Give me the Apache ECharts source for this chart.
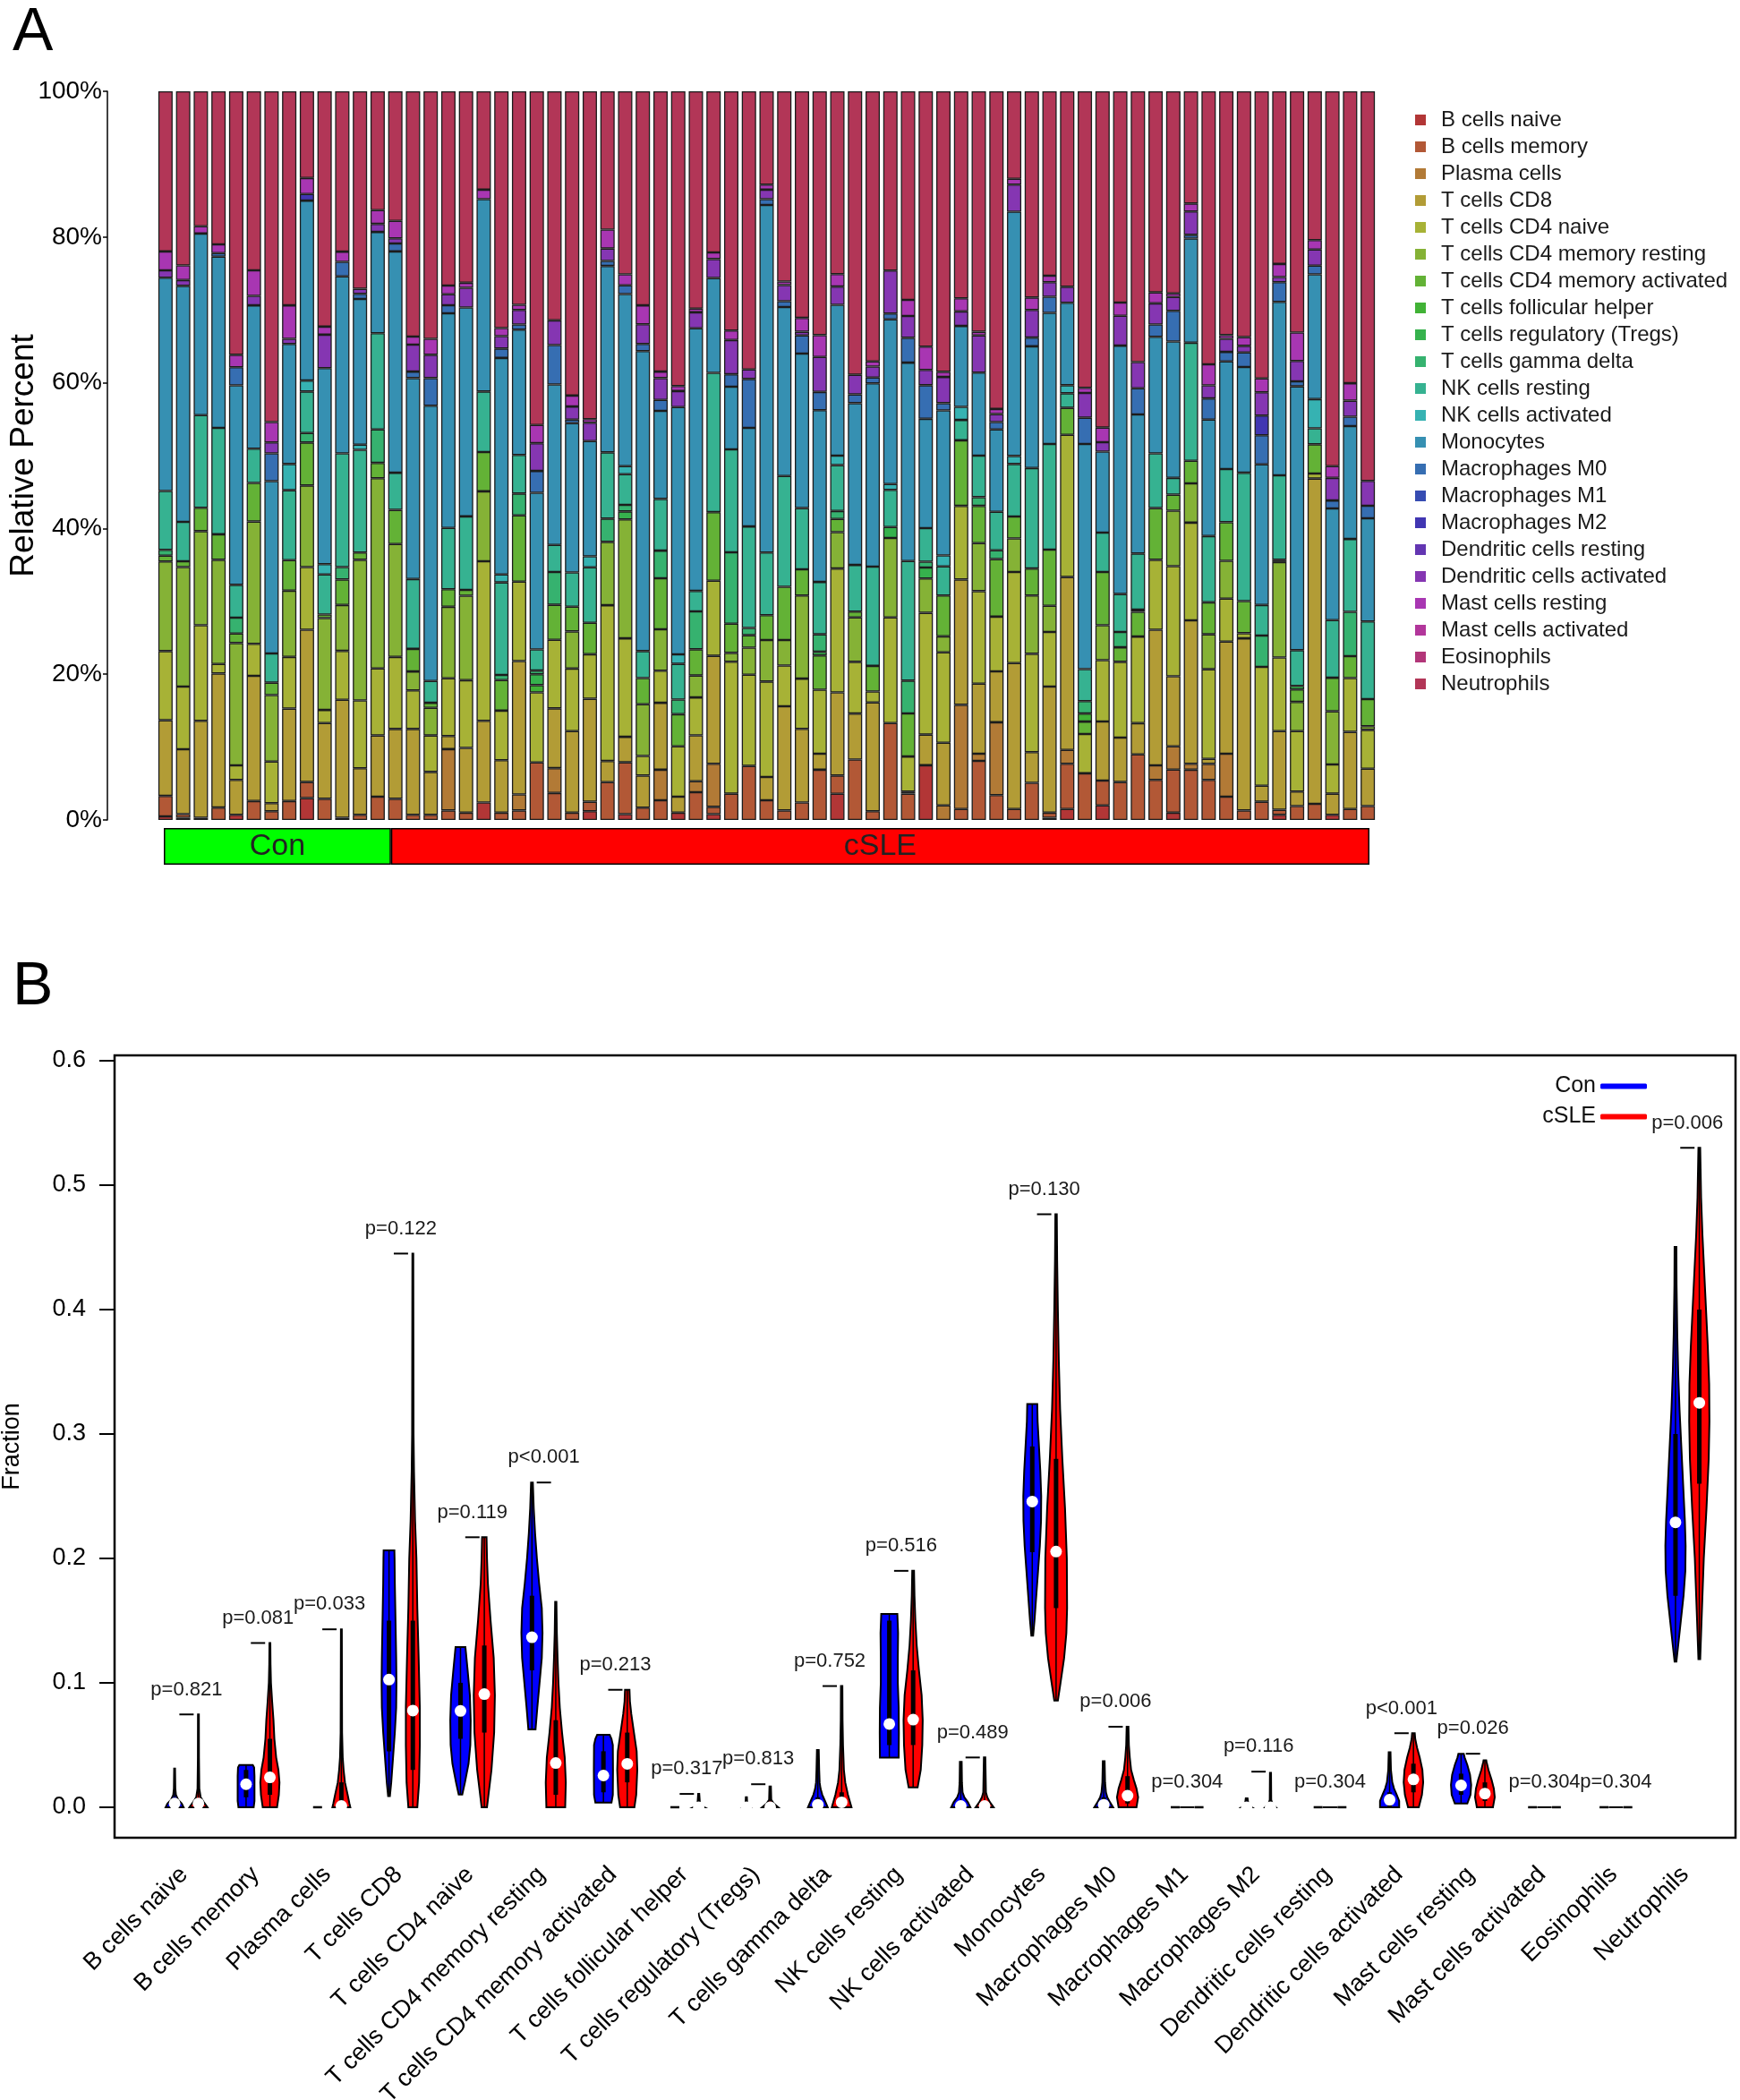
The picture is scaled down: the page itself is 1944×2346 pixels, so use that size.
<!DOCTYPE html>
<html><head><meta charset="utf-8">
<script src="https://cdn.jsdelivr.net/npm/echarts@6/dist/echarts.min.js"></script>
<style>html,body{margin:0;padding:0;background:#fff}#chart{width:1944px;height:2346px}</style>
</head><body><div id="chart"></div>
<script>
const FONT = '"Liberation Sans", Arial, Helvetica, sans-serif';

// ---------- Panel A: CIBERSORT relative fractions (% per sample, 13 Con then 56 cSLE) ----------
const cellTypes = ['B cells naive','B cells memory','Plasma cells','T cells CD8','T cells CD4 naive',
  'T cells CD4 memory resting','T cells CD4 memory activated','T cells follicular helper',
  'T cells regulatory (Tregs)','T cells gamma delta','NK cells resting','NK cells activated',
  'Monocytes','Macrophages M0','Macrophages M1','Macrophages M2','Dendritic cells resting',
  'Dendritic cells activated','Mast cells resting','Mast cells activated','Eosinophils','Neutrophils'];
const cellColors = ['#B23636','#B25836','#B27A36','#B29C36','#A7B236','#85B236','#63B236','#41B236',
  '#36B24D','#36B26F','#36B291','#36B2B2','#3690B2','#366EB2','#364CB2','#4136B2','#6336B2',
  '#8536B2','#A836B2','#B2369B','#B23679','#B23657'];
const groupLabels = ['Con', 'cSLE'];
const conCount = 13;
const sleCount = 56;

const BN = [0.5,0.3,0.3,0,0.7,0,0,0,3.0,0, 0.3,0,0,0,0,0,0,0,2.4,0, 0,0,0,0,1.2,0,0.8,0,0,1.0,
  0,0.8,0,0,0,0,0,0,3.6,0, 0,0,0,7.5,0,0,0,0,0,0, 0.3,1.5,0,2.0,0,0,0,1.0,0,0, 0,0,0,0.7,0,0,0.7,0,0];
const BM = [2.8,0.5,0,1.7,0,2.6,1.2,2.6,2.2,2.9, 0,0.7,3.2,2.9,0.7,0.7,1.3,1.0,0,1.0, 1.3,7.9,3.7,1.0,1.3,5.2,7.1,1.7,2.7,0,
  3.8,1.0,3.6,7.4,2.7,1.3,2.4,6.9,2.5,8.3, 1.2,13.3,3.6,0,0,1.5,8.1,3.4,1.5,5.1, 0.7,6.2,6.4,3.4,5.2,9.0,5.5,5.9,6.9,5.5,
  3.2,1.3,2.5,0.7,1.9,2.2,0,1.5,1.9];
const PL = [0,0,0,0,0,0,0,0,0,0, 0,0,0,0,0,0,8.4,0,0,0, 2.2,0,3.4,0,0,0,0,0,4.2,0,
  1.5,5.9,0,0,0,0,0,0,0,0, 0,0,0,0,2.0,14.3,1.0,10.0,0,0, 0,1.9,0,0,0,0,2.0,3.2,0.8,2.2, 5.9,0,0,0,0,0,0,0,0];
const CD8 = [10.4,8.9,13.3,18.4,4.8,17.2,1.1,12.7,20.9,10.4, 16.2,6.4,8.4,9.6,11.8,5.9,1.8,8.9,11.2,7.2,
  18.3,0,8.2,11.2,14.1,2.9,3.5,4.4,9.2,2.2, 6.3,14.8,0,0,3.2,14.3,10.1,2.2,11.4,6.3,
  14.9,0,0.3,4.2,8.6,17.2,9.6,7.0,20.0,4.2, 17.3,23.7,0,8.1,6.1,4.3,18.6,9.6,19.7,0.7,
  15.4,23.6,2.2,10.8,2.0,44.6,2.9,10.6,5.1];
const C4N = [9.5,8.6,13.1,1.3,2.0,4.4,5.7,7.1,8.6,1.8, 6.7,9.3,9.2,9.9,5.3,5.0,7.9,9.3,21.9,6.8,
  10.9,9.6,9.4,8.6,6.1,21.4,13.5,2.7,4.4,6.9, 5.2,10.3,18.1,12.5,13.1,5.6,6.9,8.8,17.0,7.1,
  1.5,14.5,4.8,16.7,12.4,10.1,12.7,7.5,12.5,13.5, 7.5,19.5,5.4,8.4,10.4,11.9,9.6,15.1,13.4,12.3,
  5.9,0.7,16.3,10.1,8.3,0.7,4.0,7.4,5.3];
const C4R = [12.3,16.4,12.9,14.3,16.8,16.8,9.1,9.1,11.2,12.6, 6.3,19.3,26.1,15.5,2.6,3.8,9.8,11.6,9.6,0,
  0,0,0,5.1,0,8.7,16.3,7.1,5.7,0, 3.0,0,1.2,3.7,5.7,3.5,11.4,0,5.0,6.1,
  0,10.9,0,4.7,2.2,0,6.6,0,4.6,8.0, 3.6,0,0,4.8,0,0,0,7.6,5.4,4.8, 5.2,0,0,13.1,4.0,0,7.3,0,0.5];
const C4A = [0.8,0.8,3.2,3.5,1.3,5.3,1.7,4.2,5.9,0.5, 3.5,1.0,2.1,4.7,3.1,0.7,2.4,0.8,5.4,4.2,
  9.1,0,4.8,3.4,4.3,0,0,3.6,7.0,4.4, 3.6,9.4,4.0,1.7,3.4,7.3,3.6,4.7,1.8,0.8,
  3.5,0,5.9,0,5.6,9.0,5.1,7.9,3.0,3.7, 7.7,3.7,1.7,7.3,2.0,3.4,7.1,2.2,3.1,4.4, 5.3,4.4,0,0,1.7,4.0,4.6,3.0,3.7];
const TFH = [0,0,0,0,0,0,0,0,0,0, 0,0,0,0,0,0,0,0,0,0, 0,1.0,0,0,0,0,0,0,0,0,
  0,0,0,0,0,0,0,0,0,0, 0,0,0,0,0,0,0,0,0,0, 0,0,1.1,0,0,0,0,0,0,0, 0,0,0,0,0,0,0,0,0];
const TREG = [0,0,0,0,0,0,0,0,0,0, 0,0,0,0,0,0,0,0,0,0, 0,1.5,0,0,0,0,1.1,0,0,0,
  0,0,0,0,0,0,0,0.5,0,0, 0,1.5,0,1.5,0,0,0,0,0,0, 0,0,0,0,0,0,0,0,0,0, 0,0,0,0,0.5,0,0,0,0];
const GD = [0.8,0,0,0,2.2,0,0,0,1.3,0, 1.7,0,4.6,0,0,0,0,0,0,0.7, 3.0,0.5,4.5,0,0,3.2,0.9,0,3.8,2.0,
  5.2,0,9.8,1.0,0,0,0,2.4,1.1,0, 0,0,4.5,0.8,0,0,1.2,1.2,0,0, 0,0,1.7,0,2.1,0.3,0,0,0,0, 0,0,4.3,0.3,0,0,0,6.1,0];
const NKR = [8.1,5.4,12.7,14.6,4.5,4.7,4.0,9.6,5.7,5.5, 15.6,14.1,13.2,5.1,9.6,3.0,8.4,10.1,8.3,12.7,
  5.3,2.9,3.7,4.7,7.6,9.1,4.2,3.7,7.1,4.9, 2.8,19.1,14.1,13.9,8.6,15.2,8.4,7.2,6.3,6.4,
  13.6,5.1,16.4,4.6,4.0,2.8,5.7,5.3,7.2,13.8, 14.5,2.0,4.4,5.4,5.2,7.7,7.5,2.3,16.2,9.1,
  7.3,17.6,4.2,11.6,4.9,2.2,7.9,10.0,10.6];
const NKA = [0,0,0,0,0,0,0,3.6,1.5,1.4, 0,0.7,0,0,0,0,0,0,0,1.1, 0,0,0,0,1.5,0,1.1,0,0,1.3,
  0,0,0,0,0,0,0,0,1.3,0, 0,0.8,0,0,1.5,1.8,0,0,1.1,0, 0,1.1,0,0,0,0,0,0,0,0, 0,0,0,0,0,4.0,0,0,0];
const MONO = [29.3,32.4,24.9,23.5,27.4,19.7,23.6,16.5,24.7,26.9, 24.3,20.0,13.9,30.4,27.6,37.8,29.4,28.7,26.4,29.7,
  17.2,21.5,22.0,20.5,15.8,25.6,23.6,41.2,12.1,33.9, 36.0,13.0,8.6,13.5,47.7,23.2,21.2,23.6,20.7,22.2,
  25.1,22.6,27.2,15.0,19.9,11.1,11.4,11.3,33.5,16.7, 18.0,11.3,30.9,11.1,34.1,19.1,16.0,18.7,14.3,16.0,
  14.8,14.5,19.3,23.8,36.2,17.1,15.3,15.5,14.1];
const M0 = [0,0,0,0.5,2.5,0,3.8,0,0,0, 2.0,0.7,0,1.1,0.9,3.8,1.1,0,0,1.3, 0.7,3.0,5.4,0.5,0,0.7,1.2,1.0,1.5,0,
  0,0,1.7,6.7,0.8,0.8,2.5,2.5,0,1.2, 0.8,0.8,3.4,4.6,1.0,0,0,1.0,0,1.2, 2.2,0,3.6,0,0,3.6,1.7,4.2,0.5,2.9,
  1.3,2.0,4.0,2.7,0.7,1.2,1.1,1.3,1.7];
const M1 = [0,0,0,0,0,0,0,0,0,0, 0,0,0,0,0,0,0,0,0,0, 0,0,0,0,0,0,0,0,0,0,
  0,0,0,0,0,0,0,0,0,0, 0,0,0,0,0,0,0,0,0,0, 0,0,0,0,0,0,0,0,0,0, 0,0,0,0,0,0,0,0,0];
const M2 = [0,0,0,0,0,0,0,0,0.9,0, 0,0,0,0,0,0,0,0,0,0, 0,0,0,0,0,0,0,0,0,0,
  0,0,0,0,0,0,0,0,0,0, 0,0,0,0,0,0,0,0,0,0, 0,0,0,0,0,0,0,0,0,0, 0,0,2.7,0,0,0,0,0,0];
const DCR = [0,0,0,0,0,0,0,0,0,0, 0,0,0,0,0,0,0,0,0,0, 0,0,0,0,0,0,0,0,0,0,
  0,0,0,0,0,0,0,0,0,0, 0,0,0,0,0,0,0,0,0,0, 0,0,0,0,0,0,0,0,0,0, 0,0,0,0,0,0,0,0,0];
const DCA = [1.0,0.8,0,0,0,1.3,1.5,0.7,0,4.6, 0,0.7,1.1,0.7,3.7,3.2,1.5,2.7,0,1.7,
  2.0,3.8,3.4,1.8,2.5,1.7,0,2.7,3.0,2.2, 2.2,2.6,4.7,1.3,1.3,2.2,0.5,4.8,2.5,2.7,
  1.5,5.9,3.0,2.1,3.6,2.0,5.1,1.1,3.7,3.8, 2.0,2.2,3.4,1.3,4.1,3.6,2.9,1.9,3.2,1.8,
  1.8,0.9,3.2,0.7,2.8,2.2,3.1,2.2,3.4];
const MR = [2.6,2.0,1.0,1.2,1.7,3.5,2.8,4.6,2.2,1.1, 1.4,0,1.9,2.4,1.1,2.2,1.2,0.7,1.3,1.1,
  0.7,2.5,0,1.5,0.5,2.6,1.5,2.6,0.9,0.7, 0.5,0.9,1.3,0,0.7,0.5,1.9,3.0,1.7,0,
  0.7,0,2.2,3.2,0.7,1.8,0.5,0.7,0.8,1.7, 0.9,0,0.7,2.0,1.8,0,1.5,0.5,1.1,2.9,
  0.5,1.2,1.9,1.8,3.9,1.3,1.6,2.4,0];
const MA = [0,0,0,0,0,0,0,0,0,0, 0,0,0,0,0,0,0,0,0,0, 0,0,0,0,0,0,0,0,0,0,
  0,0,0,0,0,0,0,0,0,0, 0,0,0,0,0,0,0,0,0,0, 0,0,0,0,0,0,0,0,0,0, 0,0,0,0,0,0,0,0,0];
const EOS = [0,0,0,0,0,0,0,0,0,0, 0,0,0,0,0,0,0,0,0,0, 0,0,0,0,0,0,0,0,0,0,
  0,0,0,0,0,0,0,0,0,0, 0,0,0,0,0,0,0,0,0,0, 0,0,0,0,0,0,0,0,0,0, 0,0,0,0,0,0,0,0,0];
const NEUT = [22,23.9,18.5,21,36.2,24.6,45.3,29.4,11.9,32.3, 22.0,27.1,16.3,17.8,33.7,34.0,26.6,26.3,13.5,32.5,
  29.3,45.8,31.4,41.8,44.9,19.0,25.1,29.4,38.5,40.4, 29.8,22.1,32.8,38.1,12.8,26.1,31.1,33.5,25.1,38.9,
  37.0,24.6,28.6,35.0,38.5,28.4,33.0,43.6,12.0,28.3, 25.3,26.8,40.7,46.1,29.0,37.2,27.6,27.7,15.4,37.5,
  33.5,33.7,39.4,23.7,33.1,20.4,51.4,40.1,53.2];

const fractions = [BN, BM, PL, CD8, C4N, C4R, C4A, TFH, TREG, GD, NKR, NKA, MONO, M0, M1, M2, DCR, DCA, MR, MA, EOS, NEUT];
const sampleIds = BN.map((_, j) => 'S' + (j + 1));
const sampleTotals = sampleIds.map((_, j) => fractions.reduce((s, arr) => s + arr[j], 0));

// ---------- Panel B: violin shapes: [fraction, relative half-width] ----------
const conShapes = [
  [[0,10],[0.003,8],[0.006,4],[0.01,1.5],[0.015,0.8],[0.031,0.5]],
  [[0,8.5],[0.005,9.4],[0.015,9.4],[0.025,9.4],[0.032,9],[0.034,7.5]],
  null,
  [[0.009,1],[0.02,2.5],[0.04,4.5],[0.06,6.5],[0.08,8],[0.1,8.3],[0.12,8],[0.14,7.5],[0.16,7],[0.18,6.5],[0.2,6.2],[0.2065,6]],
  [[0.0102,2],[0.02,5],[0.035,9],[0.05,11],[0.07,11.4],[0.09,10.5],[0.11,8],[0.125,6],[0.1287,5.5]],
  [[0.0626,4],[0.08,6],[0.1,8.5],[0.12,11],[0.14,11.8],[0.16,11],[0.18,8],[0.2,5.5],[0.22,3.5],[0.24,2],[0.261,1]],
  [[0.0037,9],[0.01,10.5],[0.03,10.7],[0.05,10.5],[0.055,9],[0.0582,7]],
  null,
  [[0,4],[0.0015,1],[0.008,0.6]],
  [[0,11],[0.005,8],[0.01,5],[0.015,3],[0.02,2],[0.03,1.5],[0.046,1]],
  [[0.0399,10.5],[0.06,10.7],[0.08,10.5],[0.1,9.5],[0.12,9.5],[0.14,9.8],[0.1553,9]],
  [[0,10.7],[0.004,8],[0.008,4],[0.012,2],[0.02,1.3],[0.0364,1]],
  [[0.138,1],[0.15,2.5],[0.17,4.5],[0.19,6.5],[0.21,8.5],[0.23,9.8],[0.25,10],[0.27,9],[0.29,7.5],[0.31,6],[0.324,5.6]],
  [[0,10.5],[0.004,7],[0.008,4],[0.012,2.5],[0.02,1.5],[0.037,1]],
  null,
  [[0,6],[0.002,2],[0.0072,1]],
  null,
  [[0,10.7],[0.005,10.7],[0.01,8],[0.015,5],[0.02,3],[0.03,1.5],[0.0442,1]],
  [[0.003,7],[0.01,10.5],[0.018,11.3],[0.026,10],[0.034,7],[0.04,4],[0.043,3]],
  null,
  null,
  [[0.117,1],[0.13,3],[0.15,6],[0.17,9],[0.19,11],[0.21,11.3],[0.23,10.5],[0.26,8.5],[0.29,6.5],[0.32,4.5],[0.35,3],[0.38,2],[0.42,1.2],[0.4503,1]]
];
const sleShapes = [
  [[0,10],[0.004,6],[0.008,2.5],[0.015,1],[0.04,0.6],[0.0746,0.5]],
  [[0,8],[0.01,10],[0.02,10.7],[0.03,9.5],[0.04,7],[0.055,5],[0.07,4],[0.085,2.5],[0.1,1.2],[0.115,0.7],[0.132,0.5]],
  [[0,10],[0.003,9],[0.01,7],[0.02,4],[0.03,2.5],[0.04,1.5],[0.06,0.8],[0.143,0.5]],
  [[0,5],[0.02,7],[0.05,7.8],[0.08,7.8],[0.12,6.5],[0.16,5],[0.2,4],[0.23,2.5],[0.27,1.3],[0.3,0.8],[0.445,0.5]],
  [[0,3],[0.03,8],[0.06,11],[0.09,11.8],[0.12,10.5],[0.15,7],[0.18,4],[0.2,3],[0.217,2.5]],
  [[0,10.5],[0.02,11.2],[0.04,10],[0.06,7],[0.08,4.5],[0.1,3],[0.12,2],[0.14,1.2],[0.165,0.7]],
  [[0,8],[0.01,10],[0.03,11.2],[0.045,10.5],[0.06,7.5],[0.075,4.5],[0.085,3],[0.0944,2.5]],
  [[0,6],[0.0015,1.5],[0.0107,0.6]],
  [[0,9],[0.003,4],[0.006,1.2],[0.0167,0.8]],
  [[0,11],[0.01,7],[0.02,4],[0.03,2.5],[0.05,1.5],[0.07,1],[0.0974,0.8]],
  [[0.0159,5],[0.03,8.5],[0.05,10.2],[0.07,10.7],[0.09,9.5],[0.11,6.5],[0.13,4],[0.15,2.5],[0.17,1.5],[0.19,1]],
  [[0,10],[0.004,6],[0.008,3],[0.012,1.5],[0.04,0.8]],
  [[0.0857,2],[0.1,5],[0.12,9],[0.14,11.5],[0.16,12.3],[0.2,12],[0.24,10],[0.28,7],[0.32,4.5],[0.36,3],[0.4,2],[0.44,1.2],[0.4766,0.8]],
  [[0,10],[0.008,11.8],[0.015,10],[0.022,7],[0.03,4],[0.04,2.5],[0.05,1.5],[0.0647,1]],
  null,
  [[0,6],[0.003,2],[0.006,0.8],[0.0277,0.6]],
  null,
  [[0,6],[0.01,9.5],[0.02,10.9],[0.03,10],[0.04,7],[0.048,4],[0.055,2],[0.0595,1.5]],
  [[0,9],[0.008,11],[0.015,10],[0.022,7.5],[0.03,4],[0.036,2],[0.0377,1.5]],
  null,
  null,
  [[0.119,1],[0.15,2.5],[0.2,5],[0.24,8],[0.28,10.5],[0.31,11.3],[0.34,11],[0.37,9.5],[0.4,7.5],[0.43,5.5],[0.46,3.5],[0.49,2],[0.53,1]]
];
const conMedian = [0.003,0.0185,0,0.1026,0.0774,0.1366,0.0255,0,0,0.002,0.0669,0.001,0.2457,0.002,0,0,0,0.006,0.0176,0,0,0.229];
const conQ1 = [0,0.008,0,0.045,0.055,0.11,0.012,0,0,0,0.05,0,0.205,0,0,0,0,0,0.01,0,0,0.17];
const conQ3 = [0.005,0.03,0,0.15,0.1,0.17,0.045,0,0,0.008,0.15,0.004,0.29,0.008,0,0,0,0.012,0.027,0,0,0.3];
const sleMedian = [0.003,0.024,0.001,0.0777,0.0909,0.0355,0.0349,0,0,0.004,0.0704,0.001,0.2055,0.0093,0,0,0,0.0224,0.011,0,0,0.325];
const sleQ1 = [0,0.01,0,0.03,0.06,0.01,0.02,0,0,0,0.05,0,0.16,0.003,0,0,0,0.012,0.005,0,0,0.26];
const sleQ3 = [0.006,0.055,0.02,0.15,0.13,0.07,0.06,0,0.003,0.012,0.11,0.004,0.28,0.025,0,0.003,0,0.035,0.02,0,0,0.4];
const pMax = [0.0746,0.132,0.143,0.445,0.217,0.261,0.0944,0.0107,0.0185,0.0974,0.19,0.04,0.4766,0.0647,0,0.0286,0,0.0595,0.043,0,0,0.53];
const pLabels = ['p=0.821','p=0.081','p=0.033','p=0.122','p=0.119','p<0.001','p=0.213','p=0.317','p=0.813','p=0.752',
  'p=0.516','p=0.489','p=0.130','p=0.006','p=0.304','p=0.116','p=0.304','p<0.001','p=0.026','p=0.304','p=0.304','p=0.006'];
const yTicksB = [0, 0.1, 0.2, 0.3, 0.4, 0.5, 0.6];

// ---------- rendering helpers ----------
function violinRenderer(shapes, meds, q1s, q3s, offset, color) {
  return function (params, api) {
    const i = api.value(0);
    const x = 3 * i + offset;
    const shape = shapes[i];
    const children = [];
    if (!shape) {
      const b = api.coord([x, 0]);
      children.push({type: 'line', shape: {x1: b[0] - 5, y1: b[1], x2: b[0] + 5, y2: b[1]},
        style: {stroke: '#000', lineWidth: 2.5}});
      return {type: 'group', children};
    }
    const right = [], left = [];
    shape.forEach(([v, w]) => {
      const p = api.coord([x, v]);
      right.push([p[0] + w, p[1]]);
      left.push([p[0] - w, p[1]]);
    });
    children.push({type: 'polygon', shape: {points: right.concat(left.reverse())},
      style: {fill: color, stroke: '#000', lineWidth: 2}});
    const lo = api.coord([x, shape[0][0]]);
    const hi = api.coord([x, shape[shape.length - 1][0]]);
    children.push({type: 'line', shape: {x1: lo[0], y1: lo[1], x2: hi[0], y2: hi[1]},
      style: {stroke: '#000', lineWidth: 1.5}});
    const a = api.coord([x, q1s[i]]), b = api.coord([x, q3s[i]]);
    children.push({type: 'rect', shape: {x: a[0] - 2.5, y: b[1], width: 5, height: Math.max(a[1] - b[1], 1)},
      style: {fill: '#000'}});
    const m = api.coord([x, meds[i]]);
    children.push({type: 'circle', shape: {cx: m[0], cy: m[1], r: 6.5}, style: {fill: '#fff'}});
    return {type: 'group', children};
  };
}

function pvalRenderer(params, api) {
  const i = api.value(0);
  const l1 = api.coord([3 * i + 0.2, pMax[i]]);
  const l2 = api.coord([3 * i + 0.8, pMax[i]]);
  const t = api.coord([3 * i + 0.5, pMax[i] + 0.02]);
  return {type: 'group', children: [
    {type: 'line', shape: {x1: l1[0], y1: l1[1], x2: l2[0], y2: l2[1]}, style: {stroke: '#000', lineWidth: 2}},
    {type: 'text', x: t[0], y: t[1], style: {text: pLabels[i], fill: '#1a1a1a', font: '22px ' + FONT,
      align: 'center', verticalAlign: 'middle'}}
  ]};
}

const stackSeries = cellTypes.map((name, k) => ({
  name, type: 'bar', stack: 'cib', xAxisIndex: 0, yAxisIndex: 0, barWidth: 16,
  itemStyle: {color: cellColors[k], borderColor: '#1c1c1c', borderWidth: 1.3},
  emphasis: {disabled: true},
  data: fractions[k].map((v, j) => v > 0 ? v / sampleTotals[j] * 100 : '-')
}));

const option = {
  animation: false,
  backgroundColor: '#fff',
  textStyle: {fontFamily: FONT},
  title: [
    {text: 'A', left: 9, top: -2, textStyle: {fontSize: 68, fontWeight: 'normal', color: '#000', fontFamily: FONT}},
    {text: 'B', left: 9, top: 1064, textStyle: {fontSize: 68, fontWeight: 'normal', color: '#000', fontFamily: FONT}}
  ],
  legend: [
    {data: cellTypes, orient: 'vertical', left: 1576, top: 117, icon: 'rect', itemWidth: 12, itemHeight: 12,
      itemGap: 6, selectedMode: false, itemStyle: {borderWidth: 0},
      textStyle: {fontSize: 24, lineHeight: 24, color: '#1a1a1a', fontFamily: FONT, padding: [0, 0, 0, 12]}},
    {data: ['Con'], right: 99, top: 1196, align: 'right', icon: 'roundRect', itemWidth: 52, itemHeight: 6,
      selectedMode: false, itemStyle: {borderWidth: 0},
      textStyle: {fontSize: 25, color: '#111', fontFamily: FONT}},
    {data: ['cSLE'], right: 99, top: 1230, align: 'right', icon: 'roundRect', itemWidth: 52, itemHeight: 6,
      selectedMode: false, itemStyle: {borderWidth: 0},
      textStyle: {fontSize: 25, color: '#111', fontFamily: FONT}}
  ],
  grid: [
    {left: 175, top: 102, width: 1363, height: 814, containLabel: false, outerBoundsMode: 'none'},
    {left: 183, top: 925, width: 1347, height: 41, containLabel: false, outerBoundsMode: 'none'},
    {left: 128, top: 1179, width: 1811, height: 874, show: true, borderColor: '#000', borderWidth: 2.5,
      backgroundColor: 'transparent', containLabel: false, outerBoundsMode: 'none'}
  ],
  xAxis: [
    {gridIndex: 0, type: 'category', data: sampleIds, show: false},
    {gridIndex: 1, type: 'value', min: 0, max: conCount + sleCount, show: false},
    {gridIndex: 2, type: 'value', min: -2.52, max: 65.52, position: 'bottom',
      axisLine: {show: false, onZero: false}, axisTick: {show: false}, splitLine: {show: false},
      axisLabel: {customValues: cellTypes.map((_, i) => 3 * i + 0.4), rotate: 45, margin: 37,
        fontSize: 27, color: '#000', fontFamily: FONT,
        formatter: v => cellTypes[Math.round((v - 0.4) / 3)]}}
  ],
  yAxis: [
    {gridIndex: 0, type: 'value', min: 0, max: 100, interval: 20, offset: 55,
      axisLine: {show: true, onZero: false, lineStyle: {color: '#000', width: 1.5}},
      axisTick: {show: true, length: 5, lineStyle: {color: '#000', width: 1.5}},
      axisLabel: {formatter: '{value}%', fontSize: 28, color: '#000', margin: 6, fontFamily: FONT},
      splitLine: {show: false},
      name: 'Relative Percent', nameLocation: 'middle', nameGap: 75, nameRotate: 90, nameMoveOverlap: false,
      nameTextStyle: {fontSize: 37, color: '#000', fontFamily: FONT}},
    {gridIndex: 1, type: 'category', data: ['group'], show: false},
    {gridIndex: 2, type: 'value', min: -0.0245, max: 0.6043, position: 'left',
      axisLine: {show: false, onZero: false},
      axisTick: {show: true, customValues: yTicksB, length: 17, lineStyle: {color: '#000', width: 2}},
      axisLabel: {customValues: yTicksB, formatter: v => v.toFixed(1), fontSize: 27, margin: 32,
        color: '#000', fontFamily: FONT},
      splitLine: {show: false},
      name: 'Fraction', nameLocation: 'middle', nameGap: 101, nameRotate: 90, nameMoveOverlap: false,
      nameTextStyle: {fontSize: 27, color: '#000', fontFamily: FONT}}
  ],
  series: stackSeries.concat([
    {name: 'grpCon', type: 'bar', stack: 'grp', xAxisIndex: 1, yAxisIndex: 1, barWidth: 41,
      data: [conCount], itemStyle: {color: '#00FF00', borderColor: '#000', borderWidth: 1.5},
      emphasis: {disabled: true},
      label: {show: true, position: 'inside', formatter: groupLabels[0], fontSize: 34, color: '#222', fontFamily: FONT}},
    {name: 'grpSLE', type: 'bar', stack: 'grp', xAxisIndex: 1, yAxisIndex: 1, barWidth: 41,
      data: [sleCount], itemStyle: {color: '#FF0000', borderColor: '#000', borderWidth: 1.5},
      emphasis: {disabled: true},
      label: {show: true, position: 'inside', formatter: groupLabels[1], fontSize: 34, color: '#222', fontFamily: FONT}},
    {name: 'Con', type: 'custom', coordinateSystem: 'cartesian2d', xAxisIndex: 2, yAxisIndex: 2,
      itemStyle: {color: '#0000FF'}, z: 3, data: cellTypes.map((_, i) => [i, 0]),
      renderItem: violinRenderer(conShapes, conMedian, conQ1, conQ3, 0, '#0000FF')},
    {name: 'cSLE', type: 'custom', coordinateSystem: 'cartesian2d', xAxisIndex: 2, yAxisIndex: 2,
      itemStyle: {color: '#FF0000'}, z: 3, data: cellTypes.map((_, i) => [i, 0]),
      renderItem: violinRenderer(sleShapes, sleMedian, sleQ1, sleQ3, 1, '#FF0000')},
    {name: 'pvalues', type: 'custom', coordinateSystem: 'cartesian2d', xAxisIndex: 2, yAxisIndex: 2,
      z: 4, data: cellTypes.map((_, i) => [i, 0]), renderItem: pvalRenderer}
  ])
};

const chart = echarts.init(document.getElementById('chart'), null, {renderer: 'canvas'});
chart.setOption(option);
</script></body></html>
